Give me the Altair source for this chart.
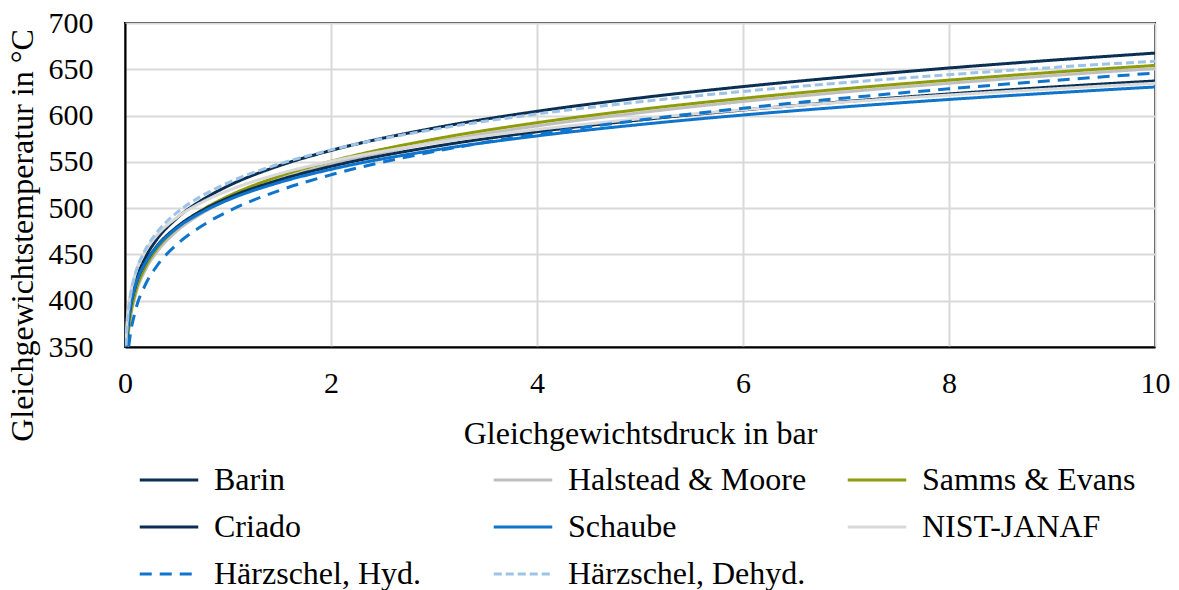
import altair as alt
import pandas as pd

pressure = [0.01, 0.02, 0.03, 0.05, 0.1, 0.2, 0.3, 0.5, 0.75, 1, 1.5, 2, 3, 4, 5, 6, 7, 8, 9, 10]

barin = [337.4, 359.7, 373.5, 391.8, 418.3, 447.0, 464.9, 488.8, 508.9, 523.9, 545.9, 562.3, 586.5, 604.6, 619.1, 631.3, 641.9, 651.4, 659.8, 667.5]
halstead = [325.9, 347.8, 361.3, 379.3, 405.4, 433.7, 451.3, 474.9, 494.6, 509.3, 531.0, 547.1, 571.0, 588.8, 603.1, 615.2, 625.6, 634.9, 643.2, 650.8]
samms = [329.2, 351.1, 364.7, 382.7, 408.8, 437.1, 454.8, 478.3, 498.1, 512.8, 534.5, 550.6, 574.5, 592.3, 606.6, 618.6, 629.1, 638.3, 646.7, 654.2]
criado = [340.3, 361.1, 373.9, 390.8, 415.2, 441.4, 457.7, 479.4, 497.5, 510.9, 530.5, 545.1, 566.5, 582.5, 595.3, 606.0, 615.2, 623.4, 630.8, 637.4]
schaube = [342.5, 362.9, 375.4, 391.9, 415.8, 441.3, 457.2, 478.2, 495.8, 508.8, 527.8, 541.9, 562.6, 578.0, 590.3, 600.6, 609.5, 617.4, 624.4, 630.9]
nist = [357.8, 377.8, 390.0, 406.1, 429.3, 454.0, 469.4, 489.6, 506.5, 518.9, 537.2, 550.6, 570.3, 584.9, 596.5, 606.3, 614.7, 622.2, 628.8, 634.9]
hyd = [307.5, 329.8, 343.6, 362.0, 388.7, 417.8, 436.1, 460.5, 481.1, 496.4, 519.1, 536.0, 561.1, 579.9, 595.1, 607.9, 619.1, 628.9, 637.8, 645.9]
dehyd = [351.3, 372.7, 385.9, 403.3, 428.5, 455.6, 472.4, 494.8, 513.5, 527.4, 547.8, 562.9, 585.1, 601.7, 614.9, 626.1, 635.7, 644.2, 651.9, 658.8]

# drawing order (back to front)
series_names = ["Barin", "Halstead & Moore", "Samms & Evans", "Criado", "Schaube",
                "NIST-JANAF", "Härzschel, Hyd.", "Härzschel, Dehyd."]
series_values = [barin, halstead, samms, criado, schaube, nist, hyd, dehyd]
color_of = {"Barin": "#0B2F52", "Halstead & Moore": "#BFBFBF", "Samms & Evans": "#8F9C09",
            "Criado": "#0B2F52", "Schaube": "#0E74CC", "NIST-JANAF": "#D9D9D9",
            "Härzschel, Hyd.": "#0E74CC", "Härzschel, Dehyd.": "#9DC3E6"}
dash_of = {"Barin": [1, 0], "Halstead & Moore": [1, 0], "Samms & Evans": [1, 0],
           "Criado": [1, 0], "Schaube": [1, 0], "NIST-JANAF": [1, 0],
           "Härzschel, Hyd.": [12, 8], "Härzschel, Dehyd.": [8, 4]}

# legend order (legend fills column by column)
legend_order = ["Barin", "Criado", "Härzschel, Hyd.", "Halstead & Moore", "Schaube",
                "Härzschel, Dehyd.", "Samms & Evans", "NIST-JANAF"]

rows = []
for name, vals in zip(series_names, series_values):
    for p, t in zip(pressure, vals):
        rows.append({"series": name, "p": p, "T": t})
df = pd.DataFrame(rows)

FONT = "Liberation Serif"

legend = alt.Legend(title=None, orient="none", legendX=13, legendY=426,
                    columns=3, gridAlign="all", columnPadding=34,
                    rowPadding=0, symbolType="stroke", symbolSize=3422,
                    symbolStrokeWidth=3, labelOffset=14,
                    labelFontSize=32, labelFont=FONT, labelColor="black",
                    labelLimit=400)

base = alt.Chart(df).mark_line(strokeWidth=3, clip=True, interpolate="monotone").encode(
    x=alt.X("p:Q", scale=alt.Scale(domain=[0, 10], nice=False),
            axis=alt.Axis(values=[0, 2, 4, 6, 8, 10], title="Gleichgewichtsdruck in bar",
                          titleY=96, titleBaseline="alphabetic", labelPadding=21,
                          labelFlush=False)),
    y=alt.Y("T:Q", scale=alt.Scale(domain=[350, 700], nice=False),
            axis=alt.Axis(values=[350, 400, 450, 500, 550, 600, 650, 700],
                          title="Gleichgewichtstemperatur in °C",
                          titleX=-103, titleY=212, titleBaseline="middle", labelPadding=32,
                          labelFlush=False)),
    color=alt.Color("series:N",
                    scale=alt.Scale(domain=legend_order, range=[color_of[s] for s in legend_order]),
                    legend=legend),
    strokeDash=alt.StrokeDash("series:N",
                              scale=alt.Scale(domain=legend_order, range=[dash_of[s] for s in legend_order]),
                              legend=legend),
)

layers = [base.transform_filter(alt.datum.series == s) for s in series_names]

chart = alt.layer(*layers).properties(
    width=1030, height=324,
    background="white",
    autosize=alt.AutoSizeParams(type="none"),
    padding={"left": 125, "top": 23, "right": 24, "bottom": 243},
).configure_view(
    stroke="black", strokeWidth=2
).configure_axis(
    labelFont=FONT, titleFont=FONT, labelFontSize=30, titleFontSize=32,
    labelColor="black", titleColor="black", titleFontWeight="normal",
    grid=True, gridColor="#D9D9D9", gridWidth=2, ticks=False,
    domain=True, domainColor="black", domainWidth=2,
)

chart.save("out.html", embed_options={"renderer": "svg", "actions": False})
